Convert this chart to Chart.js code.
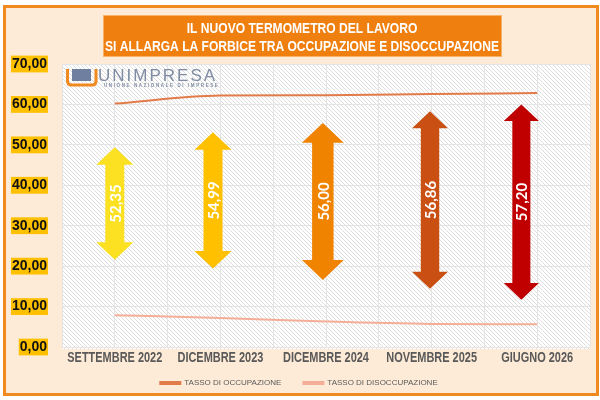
<!DOCTYPE html>
<html>
<head>
<meta charset="utf-8">
<script src="https://cdn.jsdelivr.net/npm/chart.js@4.4.1/dist/chart.umd.min.js"></script>
<style>
html,body{margin:0;padding:0;background:#fff;}
#wrap{width:600px;height:400px;}
</style>
</head>
<body>
<div id="wrap"><canvas id="c" width="600" height="400"></canvas></div>
<script>
// ---- DATA ----
const categories = ['SETTEMBRE 2022', 'DICEMBRE 2023', 'DICEMBRE 2024', 'NOVEMBRE 2025', 'GIUGNO 2026'];
const tassoOccupazione = [60.2, 62.19, 62.3, 62.56, 62.8];
const tassoDisoccupazione = [7.85, 7.2, 6.3, 5.7, 5.6];
const forbice = [52.35, 54.99, 56.00, 56.86, 57.20];
const arrowTop = [49.4, 53.1, 55.4, 58.3, 60.0];
const arrowBottom = [21.6, 19.4, 16.6, 14.4, 11.7];
const titleLines = ['IL NUOVO TERMOMETRO DEL LAVORO', 'SI ALLARGA LA FORBICE TRA OCCUPAZIONE E DISOCCUPAZIONE'];
const seriesNames = ['TASSO DI OCCUPAZIONE', 'TASSO DI DISOCCUPAZIONE'];
const yMin = 0, yMax = 70, yStep = 10;

// ---- STYLE ----
const SANS = '"Liberation Sans", Arial, sans-serif';
const arrowColors = ['#FBE122', '#FFC000', '#F08300', '#C94F12', '#C00000'];
const arrowShift = [0, -0.07, -0.03, -0.015, -0.15];
const arrowSize = [1, 1, 1.13, 0.97, 0.95];

function makePattern(ctx) {
  const p = document.createElement('canvas');
  p.width = 4; p.height = 4;
  const g = p.getContext('2d');
  g.fillStyle = '#ffffff';
  g.fillRect(0, 0, 4, 4);
  g.strokeStyle = '#dddddd';
  g.lineWidth = 1;
  g.beginPath();
  g.moveTo(-1, -1); g.lineTo(5, 5);
  g.moveTo(-1, 3); g.lineTo(1, 5);
  g.moveTo(3, -1); g.lineTo(5, 1);
  g.stroke();
  return ctx.createPattern(p, 'repeat');
}

// draw text horizontally compressed so it fits a target width (narrow face look)
function narrowText(ctx, text, x, y, sx) {
  ctx.save();
  ctx.translate(x, y);
  ctx.scale(sx, 1);
  ctx.fillText(text, 0, 0);
  ctx.restore();
}

const framePlugin = {
  id: 'frame',
  beforeDraw(chart) {
    const ctx = chart.ctx;
    const a = chart.chartArea;
    ctx.save();
    ctx.fillStyle = '#ffffff';
    ctx.fillRect(0, 0, chart.width, chart.height);
    ctx.fillStyle = '#FDEBD7';
    ctx.fillRect(4.5, 6.5, 593, 388);
    ctx.strokeStyle = '#F08A1E';
    ctx.lineWidth = 3;
    ctx.strokeRect(4.5, 6.5, 593, 388);
    // plot area hatch
    ctx.fillStyle = makePattern(ctx);
    ctx.fillRect(a.left, a.top, a.right - a.left, a.bottom - a.top + 2);
    // title box
    ctx.fillStyle = '#EF7F0E';
    ctx.fillRect(103, 15, 399, 42);
    ctx.strokeStyle = '#F7B26A';
    ctx.lineWidth = 1;
    ctx.strokeRect(103.5, 15.5, 398, 41);
    ctx.fillStyle = '#ffffff';
    ctx.font = 'bold 15px ' + SANS;
    ctx.textAlign = 'center';
    ctx.textBaseline = 'middle';
    const sx = 394 / ctx.measureText(titleLines[1]).width;
    narrowText(ctx, titleLines[0], 302, 29, sx);
    narrowText(ctx, titleLines[1], 302, 47, sx);
    ctx.restore();
  },
  beforeDatasetsDraw(chart) {
    const ctx = chart.ctx;
    const a = chart.chartArea;
    // logo
    ctx.save();
    ctx.strokeStyle = '#F08A1E';
    ctx.lineWidth = 3;
    ctx.beginPath();
    ctx.moveTo(a.left + 5.5, a.top + 5);
    ctx.lineTo(a.left + 5.5, a.top + 17);
    ctx.quadraticCurveTo(a.left + 5.5, a.top + 21, a.left + 9.5, a.top + 21);
    ctx.lineTo(a.left + 30, a.top + 21);
    ctx.quadraticCurveTo(a.left + 34, a.top + 21, a.left + 34, a.top + 17);
    ctx.lineTo(a.left + 34, a.top + 5);
    ctx.stroke();
    ctx.fillStyle = '#6E7FA0';
    ctx.fillRect(a.left + 10, a.top + 5, 19, 12);
    ctx.fillStyle = '#7F8CA3';
    ctx.font = '17px ' + SANS;
    ctx.textAlign = 'left';
    ctx.textBaseline = 'alphabetic';
    ctx.letterSpacing = '2px';
    ctx.fillText('UNIMPRESA', a.left + 36, a.top + 17);
    ctx.font = 'bold 4.5px ' + SANS;
    ctx.letterSpacing = '1.6px';
    ctx.fillText('UNIONE NAZIONALE DI IMPRESE', a.left + 42, a.top + 23);
    ctx.letterSpacing = '0px';
    ctx.restore();

    // double arrows showing the gap
    const xs = chart.scales.x, ys = chart.scales.y;
    ctx.save();
    for (let i = 0; i < categories.length; i++) {
      const x = xs.getPixelForValue(i + arrowShift[i]);
      const yT = ys.getPixelForValue(arrowTop[i]);
      const yB = ys.getPixelForValue(arrowBottom[i]);
      const s = arrowSize[i];
      const sw = 19 * s / 2, hw = 37 * s / 2, hh = 17.5 * s;
      ctx.fillStyle = arrowColors[i];
      ctx.beginPath();
      ctx.moveTo(x, yT);
      ctx.lineTo(x + hw, yT + hh);
      ctx.lineTo(x + sw, yT + hh);
      ctx.lineTo(x + sw, yB - hh);
      ctx.lineTo(x + hw, yB - hh);
      ctx.lineTo(x, yB);
      ctx.lineTo(x - hw, yB - hh);
      ctx.lineTo(x - sw, yB - hh);
      ctx.lineTo(x - sw, yT + hh);
      ctx.lineTo(x - hw, yT + hh);
      ctx.closePath();
      ctx.fill();
      ctx.save();
      ctx.translate(x, (yT + yB) / 2);
      ctx.rotate(-Math.PI / 2);
      ctx.fillStyle = '#ffffff';
      ctx.font = 'bold 15px Lato, sans-serif';
      ctx.textAlign = 'center';
      ctx.textBaseline = 'middle';
      ctx.fillText(forbice[i].toFixed(2).replace('.', ','), 0, 1);
      ctx.restore();
    }
    ctx.restore();
  },
  afterDraw(chart) {
    // category labels of the x axis, placed with the x scale
    const ctx = chart.ctx;
    const xs = chart.scales.x;
    const a = chart.chartArea;
    ctx.save();
    ctx.fillStyle = '#595959';
    ctx.font = 'bold 15px ' + SANS;
    ctx.textAlign = 'center';
    ctx.textBaseline = 'middle';
    const sx = 95 / ctx.measureText(categories[0]).width;
    for (let i = 0; i < categories.length; i++) {
      narrowText(ctx, categories[i], xs.getPixelForValue(i), a.bottom + 11, sx);
    }
    ctx.restore();
  }
};

new Chart(document.getElementById('c'), {
  type: 'line',
  data: {
    labels: categories,
    datasets: [
      {
        label: seriesNames[0],
        data: tassoOccupazione,
        borderColor: '#E27B4A',
        backgroundColor: '#E0702E',
        borderWidth: 2,
        pointRadius: 0,
        cubicInterpolationMode: 'monotone'
      },
      {
        label: seriesNames[1],
        data: tassoDisoccupazione,
        borderColor: '#F4AE98',
        backgroundColor: '#F4A58A',
        borderWidth: 2,
        pointRadius: 0,
        cubicInterpolationMode: 'monotone'
      }
    ]
  },
  options: {
    responsive: false,
    animation: false,
    devicePixelRatio: 1,
    layout: { padding: { top: 64, left: 8, right: 10, bottom: 3 } },
    scales: {
      x: {
        type: 'category',
        offset: true,
        grid: { display: false },
        border: { display: false },
        ticks: { display: false },
        afterFit(scale) { scale.height = 10; }
      },
      x2: {
        type: 'linear',
        position: 'top',
        min: 0, max: 10,
        grid: { color: '#E4E4E4', lineWidth: 1, drawTicks: false, tickLength: 0 },
        border: { display: false },
        ticks: { display: false, stepSize: 1 },
        afterFit(scale) { scale.height = 0; }
      },
      y: {
        min: yMin, max: yMax,
        grid: { color: '#E4E4E4', lineWidth: 1, drawTicks: false, tickLength: 0 },
        border: { display: false },
        afterFit(scale) { scale.width = 54; },
        ticks: {
          stepSize: yStep,
          color: '#111111',
          padding: 15,
          font: { family: SANS, size: 14, weight: 'bold' },
          showLabelBackdrop: true,
          backdropColor: '#FFC000',
          backdropPadding: { top: 0, bottom: 0, left: 1, right: 1 },
          callback: (v) => Number(v).toFixed(2).replace('.', ',')
        }
      }
    },
    plugins: {
      title: { display: false },
      tooltip: { enabled: false },
      legend: {
        position: 'bottom',
        labels: {
          boxWidth: 20,
          boxHeight: 2,
          padding: 22,
          color: '#595959',
          font: { family: SANS, size: 8 }
        }
      }
    }
  },
  plugins: [framePlugin]
});
</script>
</body>
</html>
